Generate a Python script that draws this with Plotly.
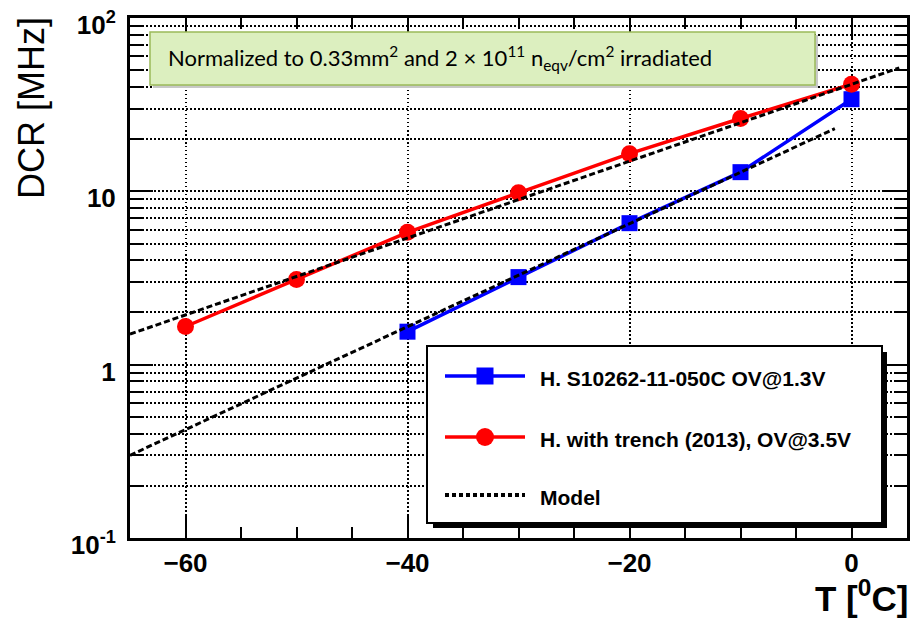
import plotly.graph_objects as go

# ---------------- data ----------------
temp_red = [-60, -50, -40, -30, -20, -10, 0]
dcr_red = [1.66, 3.1, 5.8, 9.8, 16.5, 26.3, 41.5]

temp_blue = [-40, -30, -20, -10, 0]
dcr_blue = [1.55, 3.2, 6.55, 12.9, 34.0]

model_red_t = [-65, 4.3]
model_red_v = [1.50, 51.6]

model_blue_t = [-65, -1.5]
model_blue_v = [0.30, 23.0]

x_ticks = [-60, -40, -20, 0]
y_ticks = [0.1, 1, 10, 100]
y_ticktext = ["10<sup>-1</sup>", "1", "10", "10<sup>2</sup>"]
y_minor = [m * d for d in (0.1, 1, 10) for m in range(2, 10)]

series_blue_name = "H. S10262-11-050C OV@1.3V"
series_red_name = "H. with trench (2013), OV@3.5V"
model_name = "Model"

# ---------------- geometry (page pixels; the page body has an 8px margin) ----------------
OFF = 8
PAGE_W, PAGE_H = 923, 620
W, H = PAGE_W - OFF, PAGE_H - OFF
L, R, T, B = 130, 907, 18, 538  # plot frame in page pixels


def px(x):
    return (x - L) / (R - L)


def py(y):
    return (B - y) / (B - T)


FONT = "Liberation Sans, Arial, Helvetica, sans-serif"

fig = go.Figure()

fig.add_trace(go.Scatter(x=temp_blue, y=dcr_blue, mode="lines+markers", name=series_blue_name,
                         line=dict(color="#0000ff", width=3.5),
                         marker=dict(symbol="square", size=16, color="#0000ff"),
                         showlegend=False))
fig.add_trace(go.Scatter(x=temp_red, y=dcr_red, mode="lines+markers", name=series_red_name,
                         line=dict(color="#ff0000", width=3.5),
                         marker=dict(symbol="circle", size=17, color="#ff0000"),
                         showlegend=False))
fig.add_trace(go.Scatter(x=model_red_t, y=model_red_v, mode="lines", name=model_name,
                         line=dict(color="black", width=3, dash="6px,3px"), showlegend=False))
fig.add_trace(go.Scatter(x=model_blue_t, y=model_blue_v, mode="lines", name=model_name,
                         line=dict(color="black", width=3, dash="6px,3px"), showlegend=False))

grid_kw = dict(showgrid=True, gridcolor="black", gridwidth=2, griddash="1.5px,2.5px")

fig.update_xaxes(range=[-65, 5], tickvals=x_ticks, ticks="inside", ticklen=22, tickwidth=2,
                 tickcolor="black", showline=True, linewidth=3, linecolor="black", mirror="ticks",
                 zeroline=False, ticklabelstandoff=0, automargin=False, ticklabeloverflow="allow",
                 tickfont=dict(family=FONT, size=26, color="black", weight="bold"),
                 minor=dict(dtick=5, ticks="inside", ticklen=11, tickwidth=2, tickcolor="black",
                            showgrid=False),
                 **grid_kw)

fig.update_yaxes(type="log", range=[-1, 2], tickvals=y_ticks, ticktext=y_ticktext,
                 ticks="inside", ticklen=23, tickwidth=2, tickcolor="black",
                 showline=True, linewidth=3, linecolor="black", mirror="ticks",
                 zeroline=False, ticklabelstandoff=6, ticklabelshift=7, automargin=False,
                 ticklabeloverflow="allow",
                 tickfont=dict(family=FONT, size=26, color="black", weight="bold"),
                 minor=dict(tickvals=y_minor, ticks="inside", ticklen=13, tickwidth=2,
                            tickcolor="black", showgrid=True, gridcolor="black", gridwidth=2,
                            griddash="1.5px,2.5px"),
                 **grid_kw)

shapes = []
annotations = []

# green note box with a soft grey shadow
shapes.append(dict(type="rect", xref="paper", yref="paper", x0=px(153), x1=px(818), y0=py(88), y1=py(35),
                   fillcolor="#c8c8c8", line=dict(width=0)))
shapes.append(dict(type="rect", xref="paper", yref="paper", x0=px(150), x1=px(815), y0=py(85), y1=py(32),
                   fillcolor="#dcefbf", line=dict(color="#9bbb59", width=1.5)))
annotations.append(dict(xref="paper", yref="paper", x=px(166), y=py(58), xanchor="left", yanchor="middle",
                        showarrow=False,
                        text="Normalized to 0.33mm<sup>2</sup> and 2 × 10<sup>11</sup> n<sub>eqv</sub>/cm<sup>2</sup> irradiated",
                        font=dict(family="Lato, Liberation Sans, sans-serif", size=22, color="black")))

# legend box with drop shadow
shapes.append(dict(type="rect", xref="paper", yref="paper", x0=px(433), x1=px(887), y0=py(528), y1=py(352),
                   fillcolor="black", line=dict(width=0)))
shapes.append(dict(type="rect", xref="paper", yref="paper", x0=px(427), x1=px(882), y0=py(523), y1=py(346),
                   fillcolor="white", line=dict(color="black", width=2)))

leg_rows = [(376, "#0000ff", "square", series_blue_name),
            (437, "#ff0000", "circle", series_red_name),
            (495, "black", None, model_name)]
for yy, col, sym, label in leg_rows:
    if sym is None:
        shapes.append(dict(type="line", xref="paper", yref="paper", x0=px(445), x1=px(525), y0=py(yy), y1=py(yy),
                           line=dict(color="black", width=4, dash="4px,3px")))
    else:
        shapes.append(dict(type="line", xref="paper", yref="paper", x0=px(445), x1=px(525), y0=py(yy), y1=py(yy),
                           line=dict(color=col, width=3.5)))
        half = 8.5 if sym == "square" else 9
        shapes.append(dict(type="rect" if sym == "square" else "circle", xref="paper", yref="paper",
                           x0=px(485 - half), x1=px(485 + half), y0=py(yy + half), y1=py(yy - half),
                           fillcolor=col, line=dict(width=0)))
    annotations.append(dict(xref="paper", yref="paper", x=px(538), y=py(yy + 2), xanchor="left", yanchor="middle",
                            showarrow=False, text=label,
                            font=dict(family=FONT, size=21, color="black", weight="bold")))

# axis titles (ROOT style)
annotations.append(dict(xref="paper", yref="paper", x=px(31), y=py(108), xanchor="center", yanchor="middle",
                        textangle=-90, showarrow=False, text="DCR [MHz]",
                        font=dict(family=FONT, size=36, color="black")))
annotations.append(dict(xref="paper", yref="paper", x=px(910), y=py(596), xanchor="right", yanchor="middle",
                        showarrow=False, text="T [<sup>0</sup>C]",
                        font=dict(family=FONT, size=35, color="black", weight="bold")))

fig.update_layout(width=W, height=H,
                  margin=dict(l=L - OFF, r=W - (R - OFF), t=T - OFF, b=H - (B - OFF), autoexpand=False),
                  plot_bgcolor="white", paper_bgcolor="white",
                  shapes=shapes, annotations=annotations, showlegend=False)

fig.write_html("out.html")
